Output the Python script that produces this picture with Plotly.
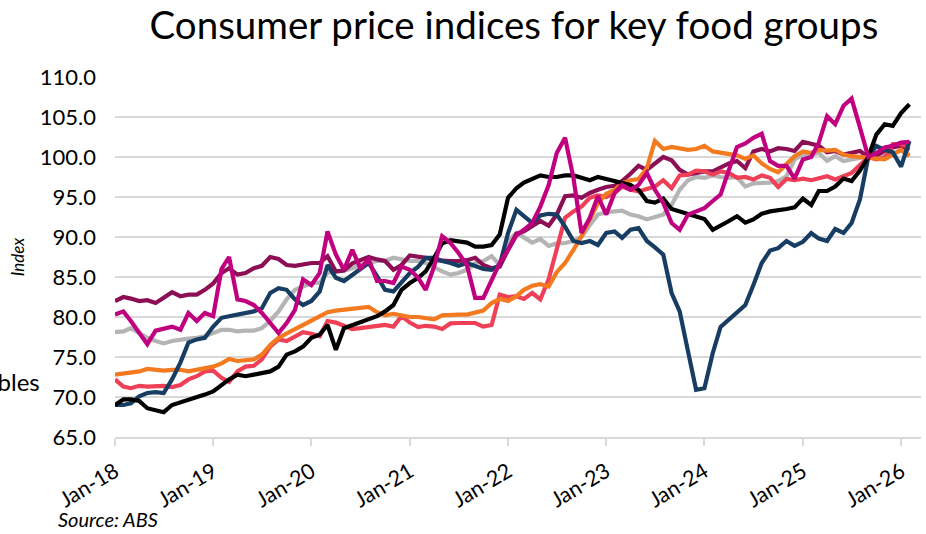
import plotly.graph_objects as go
import pandas as pd

months = pd.date_range("2018-01-01", periods=98, freq="MS")
tick_years = list(range(2018, 2027))
tick_labels = [f"Jan-{y % 100:02d}" for y in tick_years]

black = [69.0, 69.7, 69.7, 69.5, 68.6, 68.4, 68.1, 69.0, 69.3, 69.6, 69.9, 70.3, 70.7, 71.5, 72.2, 72.8, 72.6, 72.8, 73.0, 73.2,
         73.8, 75.3, 75.7, 76.3, 77.4, 77.8, 79.0, 75.9, 78.6, 79.0, 79.3, 79.7, 80.1, 80.7, 81.5, 83.4, 84.25, 84.9, 85.7, 87.4,
         89.2, 89.6, 89.5, 89.3, 88.8, 88.8, 89.0, 90.3, 94.9, 96.1, 96.8, 97.25, 97.7, 97.5, 97.5, 97.7, 97.7, 97.4, 97.1, 97.5,
         97.25, 97.1, 96.8, 96.5, 95.9, 94.5, 94.3, 94.8, 93.5, 93.2, 92.9, 92.6, 92.25, 90.9, 91.4, 92.0, 92.6, 91.8, 92.2, 92.9,
         93.2, 93.3, 93.5, 93.7, 94.8, 94.0, 95.75, 95.75, 96.3, 97.3, 97.0, 98.3, 100.0, 102.8, 104.1, 103.9, 105.5, 106.6]

navy = [69.0, 69.0, 69.2, 70.1, 70.5, 70.6, 70.5, 72.2, 74.3, 76.8, 77.2, 77.4, 78.8, 79.9, 80.1, 80.3, 80.6, 80.7, 81.1, 83.0,
        83.6, 83.4, 82.2, 81.5, 82.0, 83.2, 86.5, 84.9, 84.5, 85.3, 86.1, 86.75, 85.1, 83.4, 83.2, 84.25, 85.5, 86.3, 87.4, 87.4,
        87.0, 86.75, 86.4, 86.75, 86.3, 86.0, 85.9, 86.5, 90.5, 93.4, 92.6, 91.75, 92.7, 92.9, 92.8, 91.3, 89.5, 89.25, 89.5, 89.0,
        90.5, 90.7, 89.9, 90.9, 91.1, 89.5, 88.7, 87.8, 83.0, 80.7, 75.7, 70.9, 71.1, 75.5, 78.75, 79.7, 80.6, 81.5, 84.0, 86.75,
        88.3, 88.6, 89.5, 88.9, 89.4, 90.5, 89.8, 89.5, 91.0, 90.5, 91.75, 94.7, 100.0, 101.4, 100.9, 100.6, 98.8, 102.0]

gray = [78.1, 78.2, 78.6, 78.0, 77.4, 77.0, 76.7, 77.0, 77.2, 77.3, 77.4, 77.6, 78.0, 78.4, 78.4, 78.2, 78.3, 78.3, 78.6, 79.5,
        80.7, 82.2, 83.4, 83.8, 84.2, 84.3, 85.5, 85.7, 85.8, 86.1, 86.5, 86.75, 87.0, 87.0, 87.4, 87.2, 87.0, 87.0, 86.75, 86.25,
        85.7, 85.3, 85.5, 85.9, 86.75, 87.0, 87.6, 86.5, 89.5, 90.5, 89.9, 89.3, 89.75, 88.9, 89.2, 89.25, 89.5, 90.0, 91.5, 92.8,
        93.1, 93.2, 93.3, 92.8, 92.6, 92.2, 92.5, 92.8, 94.0, 95.9, 97.1, 97.5, 97.4, 97.7, 97.5, 97.4, 97.5, 96.3, 96.7, 96.75,
        96.8, 97.0, 97.6, 99.7, 100.3, 100.3, 100.5, 99.5, 100.1, 99.5, 99.7, 99.8, 100.0, 100.3, 100.1, 100.5, 100.8, 100.3]

maroon = [82.0, 82.5, 82.3, 82.0, 82.1, 81.75, 82.4, 83.1, 82.6, 82.8, 82.8, 83.4, 84.2, 85.5, 86.1, 85.3, 85.5, 86.1, 86.4, 87.5,
          87.25, 86.5, 86.4, 86.6, 86.75, 86.75, 87.6, 85.7, 85.8, 86.7, 87.1, 87.5, 87.2, 87.0, 85.9, 86.5, 87.7, 87.6, 87.4, 87.1,
          87.0, 87.0, 87.0, 87.1, 87.4, 86.5, 86.1, 86.3, 88.4, 90.4, 90.7, 91.3, 92.0, 91.4, 92.8, 95.1, 95.2, 94.9, 95.5, 95.9,
          96.25, 96.4, 97.0, 97.9, 98.9, 98.4, 99.25, 100.0, 99.6, 98.4, 97.8, 98.0, 98.2, 98.2, 98.75, 99.2, 99.5, 98.6, 100.7, 101.0,
          100.7, 101.1, 101.0, 100.75, 101.9, 101.6, 101.4, 100.6, 100.75, 100.3, 100.5, 100.75, 100.0, 100.2, 100.75, 101.2, 101.4, 100.9]

magenta = [80.3, 80.7, 79.5, 78.0, 76.6, 78.3, 78.6, 78.8, 78.4, 80.5, 79.5, 80.5, 80.1, 86.0, 87.5, 82.2, 82.0, 81.5, 80.5, 79.25,
           78.0, 79.25, 80.9, 84.7, 84.0, 85.5, 90.7, 87.8, 85.9, 88.4, 86.1, 87.2, 84.5, 84.5, 84.25, 86.3, 85.9, 84.9, 83.4, 86.3,
           90.1, 89.25, 88.0, 86.5, 82.4, 82.4, 84.5, 86.75, 88.4, 90.2, 90.9, 91.75, 93.8, 96.5, 100.5, 102.4, 97.4, 90.5, 92.4, 95.1,
           92.8, 95.5, 96.5, 95.9, 96.5, 98.0, 95.9, 94.25, 91.75, 90.9, 92.8, 93.2, 93.6, 94.5, 95.3, 98.4, 101.25, 101.7, 102.4, 102.9,
           99.5, 98.9, 98.9, 97.3, 99.7, 100.0, 101.8, 105.1, 104.1, 106.4, 107.3, 103.7, 100.0, 100.5, 101.2, 101.4, 101.8, 101.9]

orange = [72.8, 72.9, 73.0, 73.2, 73.5, 73.4, 73.3, 73.4, 73.4, 73.2, 73.4, 73.7, 73.8, 74.2, 74.75, 74.5, 74.6, 74.7, 75.3, 76.5,
          77.4, 78.0, 78.5, 79.0, 79.5, 80.1, 80.6, 80.8, 80.9, 81.0, 81.1, 81.25, 80.6, 80.2, 80.4, 80.2, 80.0, 80.0, 79.8, 79.7,
          80.2, 80.3, 80.3, 80.3, 80.5, 80.8, 81.75, 82.25, 82.0, 82.6, 83.4, 83.9, 84.1, 83.8, 85.6, 86.75, 88.4, 90.1, 92.2, 94.25,
          95.4, 95.9, 96.7, 97.1, 97.25, 98.6, 102.0, 101.0, 101.25, 101.1, 100.9, 101.0, 101.4, 100.7, 100.5, 100.4, 100.2, 99.75, 100.2, 99.2,
          98.5, 98.1, 99.1, 100.1, 100.7, 100.5, 100.9, 100.8, 100.9, 100.3, 100.1, 100.0, 100.0, 99.9, 99.7, 100.3, 100.9, 100.1]

coral = [72.2, 71.3, 71.1, 71.4, 71.3, 71.4, 71.4, 71.25, 71.5, 72.2, 72.6, 73.2, 73.3, 72.4, 71.9, 73.2, 73.8, 73.9, 74.7, 76.3,
         77.2, 77.0, 77.6, 78.1, 77.9, 77.6, 79.5, 79.3, 78.9, 78.5, 78.6, 78.7, 78.8, 79.0, 78.8, 80.1, 79.3, 78.75, 78.9, 78.8,
         78.5, 79.2, 79.25, 79.25, 79.25, 78.8, 79.0, 82.8, 82.5, 82.6, 82.25, 83.0, 82.2, 84.7, 88.6, 92.4, 93.2, 93.8, 94.9, 95.2,
         95.0, 95.5, 96.3, 95.9, 95.7, 96.0, 96.3, 97.1, 96.1, 97.7, 97.8, 98.3, 98.2, 97.8, 98.2, 98.0, 97.4, 97.5, 97.2, 97.7,
         97.4, 96.25, 97.25, 97.1, 97.3, 97.1, 97.4, 97.6, 97.2, 97.6, 98.0, 99.0, 100.0, 99.7, 99.9, 101.6, 101.6, 101.2]

series = [
    ("Dairy and related products", gray, "#b4b4b4"),
    ("Non-alcoholic beverages", maroon, "#8c0f55"),
    ("Food products n.e.c.", coral, "#ef4058"),
    ("Meat and seafoods", orange, "#f47a20"),
    ("Fruit", navy, "#173d63"),
    ("Meals out and take away foods", black, "#000000"),
    ("Vegetables", magenta, "#c0007e"),
]

fig = go.Figure()
for name, vals, col in series:
    fig.add_trace(go.Scatter(x=months, y=vals, name=name, mode="lines",
                             line=dict(color=col, width=4.2), showlegend=False))

font_family = "Lato, 'Noto Sans', sans-serif"

fig.update_layout(
    width=926, height=534,
    margin=dict(l=115, r=5, t=77, b=97),
    paper_bgcolor="white", plot_bgcolor="white",
    font=dict(family=font_family, color="#000000", size=22),
    title=dict(text="Consumer price indices for key food groups",
               x=0.555, xanchor="center", y=0.953, yanchor="middle",
               font=dict(size=38.5, family=font_family, color="#000000")),
    xaxis=dict(
        type="date",
        range=["2018-01-01", "2026-03-16"],
        tickvals=[f"{y}-01-01" for y in tick_years],
        ticktext=tick_labels,
        tickangle=-31,
        showgrid=False,
        showline=True, linecolor="#d9d9d9", linewidth=1.5,
        ticks="outside", tickcolor="#d9d9d9", ticklen=7, tickwidth=1.5,
        ticklabelstandoff=5,
        tickfont=dict(size=21.5),
        automargin=False,
    ),
    yaxis=dict(
        range=[65, 110],
        tickvals=[65, 70, 75, 80, 85, 90, 95, 100, 105, 110],
        tickformat=".1f",
        showgrid=True, gridcolor="#d9d9d9", gridwidth=1.5,
        zeroline=False, showline=False,
        ticks="", ticklabelstandoff=18,
        tickfont=dict(size=22),
        automargin=False,
        title=dict(text="<i>Index</i>", font=dict(size=17), standoff=10),
    ),
    annotations=[
        dict(text="<i>Source: ABS</i>", xref="paper", yref="paper",
             x=(56 - 115) / 806, y=-(519 - 437) / 360, xanchor="left", yanchor="middle",
             showarrow=False, font=dict(size=20)),
        dict(text="Vegetables", xref="paper", yref="y",
             x=(42 - 115) / 806, y=72.0, xanchor="right", yanchor="middle",
             showarrow=False, font=dict(size=24)),
    ],
)

fig.write_html("out.html", config={"displayModeBar": False},
               post_script="document.body.style.margin='0';")
